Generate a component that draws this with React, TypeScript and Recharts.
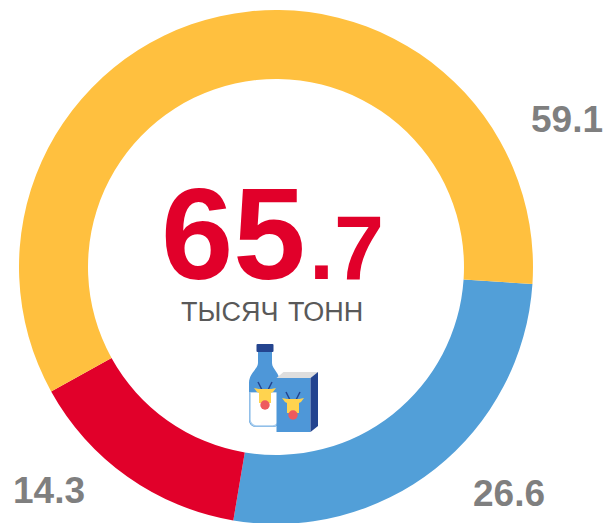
import React from "react";
import { PieChart, Pie, Cell } from "recharts";

const labels = ["26.6", "14.3", "59.1"];
const values = [26.6, 14.3, 59.1];
const colors = ["#529fd8", "#e1002a", "#ffc03f"];
const totalMajor = "65";
const totalMinor = ".7";
const unit = "ТЫСЯЧ ТОНН";

const data = labels.map((label, i) => ({ label, value: values[i] }));
const font = "'Liberation Sans', Arial, sans-serif";

function Face({ x, y }: { x: number; y: number }) {
  return (
    <g transform={`translate(${x} ${y})`}>
      <path d="M-7-14l4 8M7-14l-4 8" stroke="#24448f" strokeWidth="1.500" fill="none" />
      <path d="M-11-8l5 1h12l5-1-3 4-2 1v10h-12v-10l-2-1z" fill="#ffd34f" />
      <circle cx="0" cy="9" r="4.700" fill="#ee5a5e" />
    </g>
  );
}

function Icon() {
  return (
    <g>
      <rect x="256.500" y="344" width="17" height="8" rx="1" fill="#24448f" />
      <path d="M258 352h14v11c0 6 8 10 8 20v37c0 4-3 7-7 7h-17c-4 0-7-3-7-7v-37c0-10 9-14 9-20z" fill="#4e97d8" />
      <path d="M250 392h29v28c0 3-3 6-6 6h-17c-3 0-6-3-6-6z" fill="#ffffff" stroke="#a8cdee" strokeWidth="1.500" />
      <path d="M249 392c0-10 9-14 9-20h14c0 6 8 10 8 20z" fill="#4e97d8" />
      <Face x={265} y={396} />
      <rect x="276.500" y="378" width="34" height="54" fill="#4e97d8" />
      <path d="M276.500 378l7-6h34.500l-7.500 6z" fill="#dedede" />
      <path d="M310.500 378l7.500-6v54l-7.500 6z" fill="#24448f" />
      <Face x={293} y={406} />
    </g>
  );
}

export default function App() {
  return (
    <div style={{ position: "absolute", left: 0, top: 0, width: 606, height: 523 }}>
      <PieChart width={606} height={523} margin={{ top: 0, right: 0, bottom: 0, left: 0 }}>
        <Pie
          data={data}
          dataKey="value"
          cx={276}
          cy={267}
          innerRadius={188}
          outerRadius={257}
          startAngle={-3.8}
          endAngle={-363.8}
          stroke="none"
          paddingAngle={0}
          isAnimationActive={false}
        >
          {data.map((_, i) => (
            <Cell key={i} fill={colors[i]} />
          ))}
        </Pie>
        <text x={531} y={132} fontFamily={font} fontWeight={700} fontSize={37} fill="#7f7f7f">{labels[2]}</text>
        <text x={473} y={506} fontFamily={font} fontWeight={700} fontSize={37} fill="#7f7f7f">{labels[0]}</text>
        <text x={13} y={503} fontFamily={font} fontWeight={700} fontSize={37} fill="#7f7f7f">{labels[1]}</text>
        <text x={161} y={279} fontFamily={font} fontWeight={700} fontSize={130} fill="#e1002a">{totalMajor}</text>
        <text x={309} y={279} fontFamily={font} fontWeight={700} fontSize={90} fill="#e1002a">{totalMinor}</text>
        <text x={181} y={321} fontFamily={font} fontSize={27} wordSpacing={2} fill="#595959">{unit}</text>
        <Icon />
      </PieChart>
    </div>
  );
}
